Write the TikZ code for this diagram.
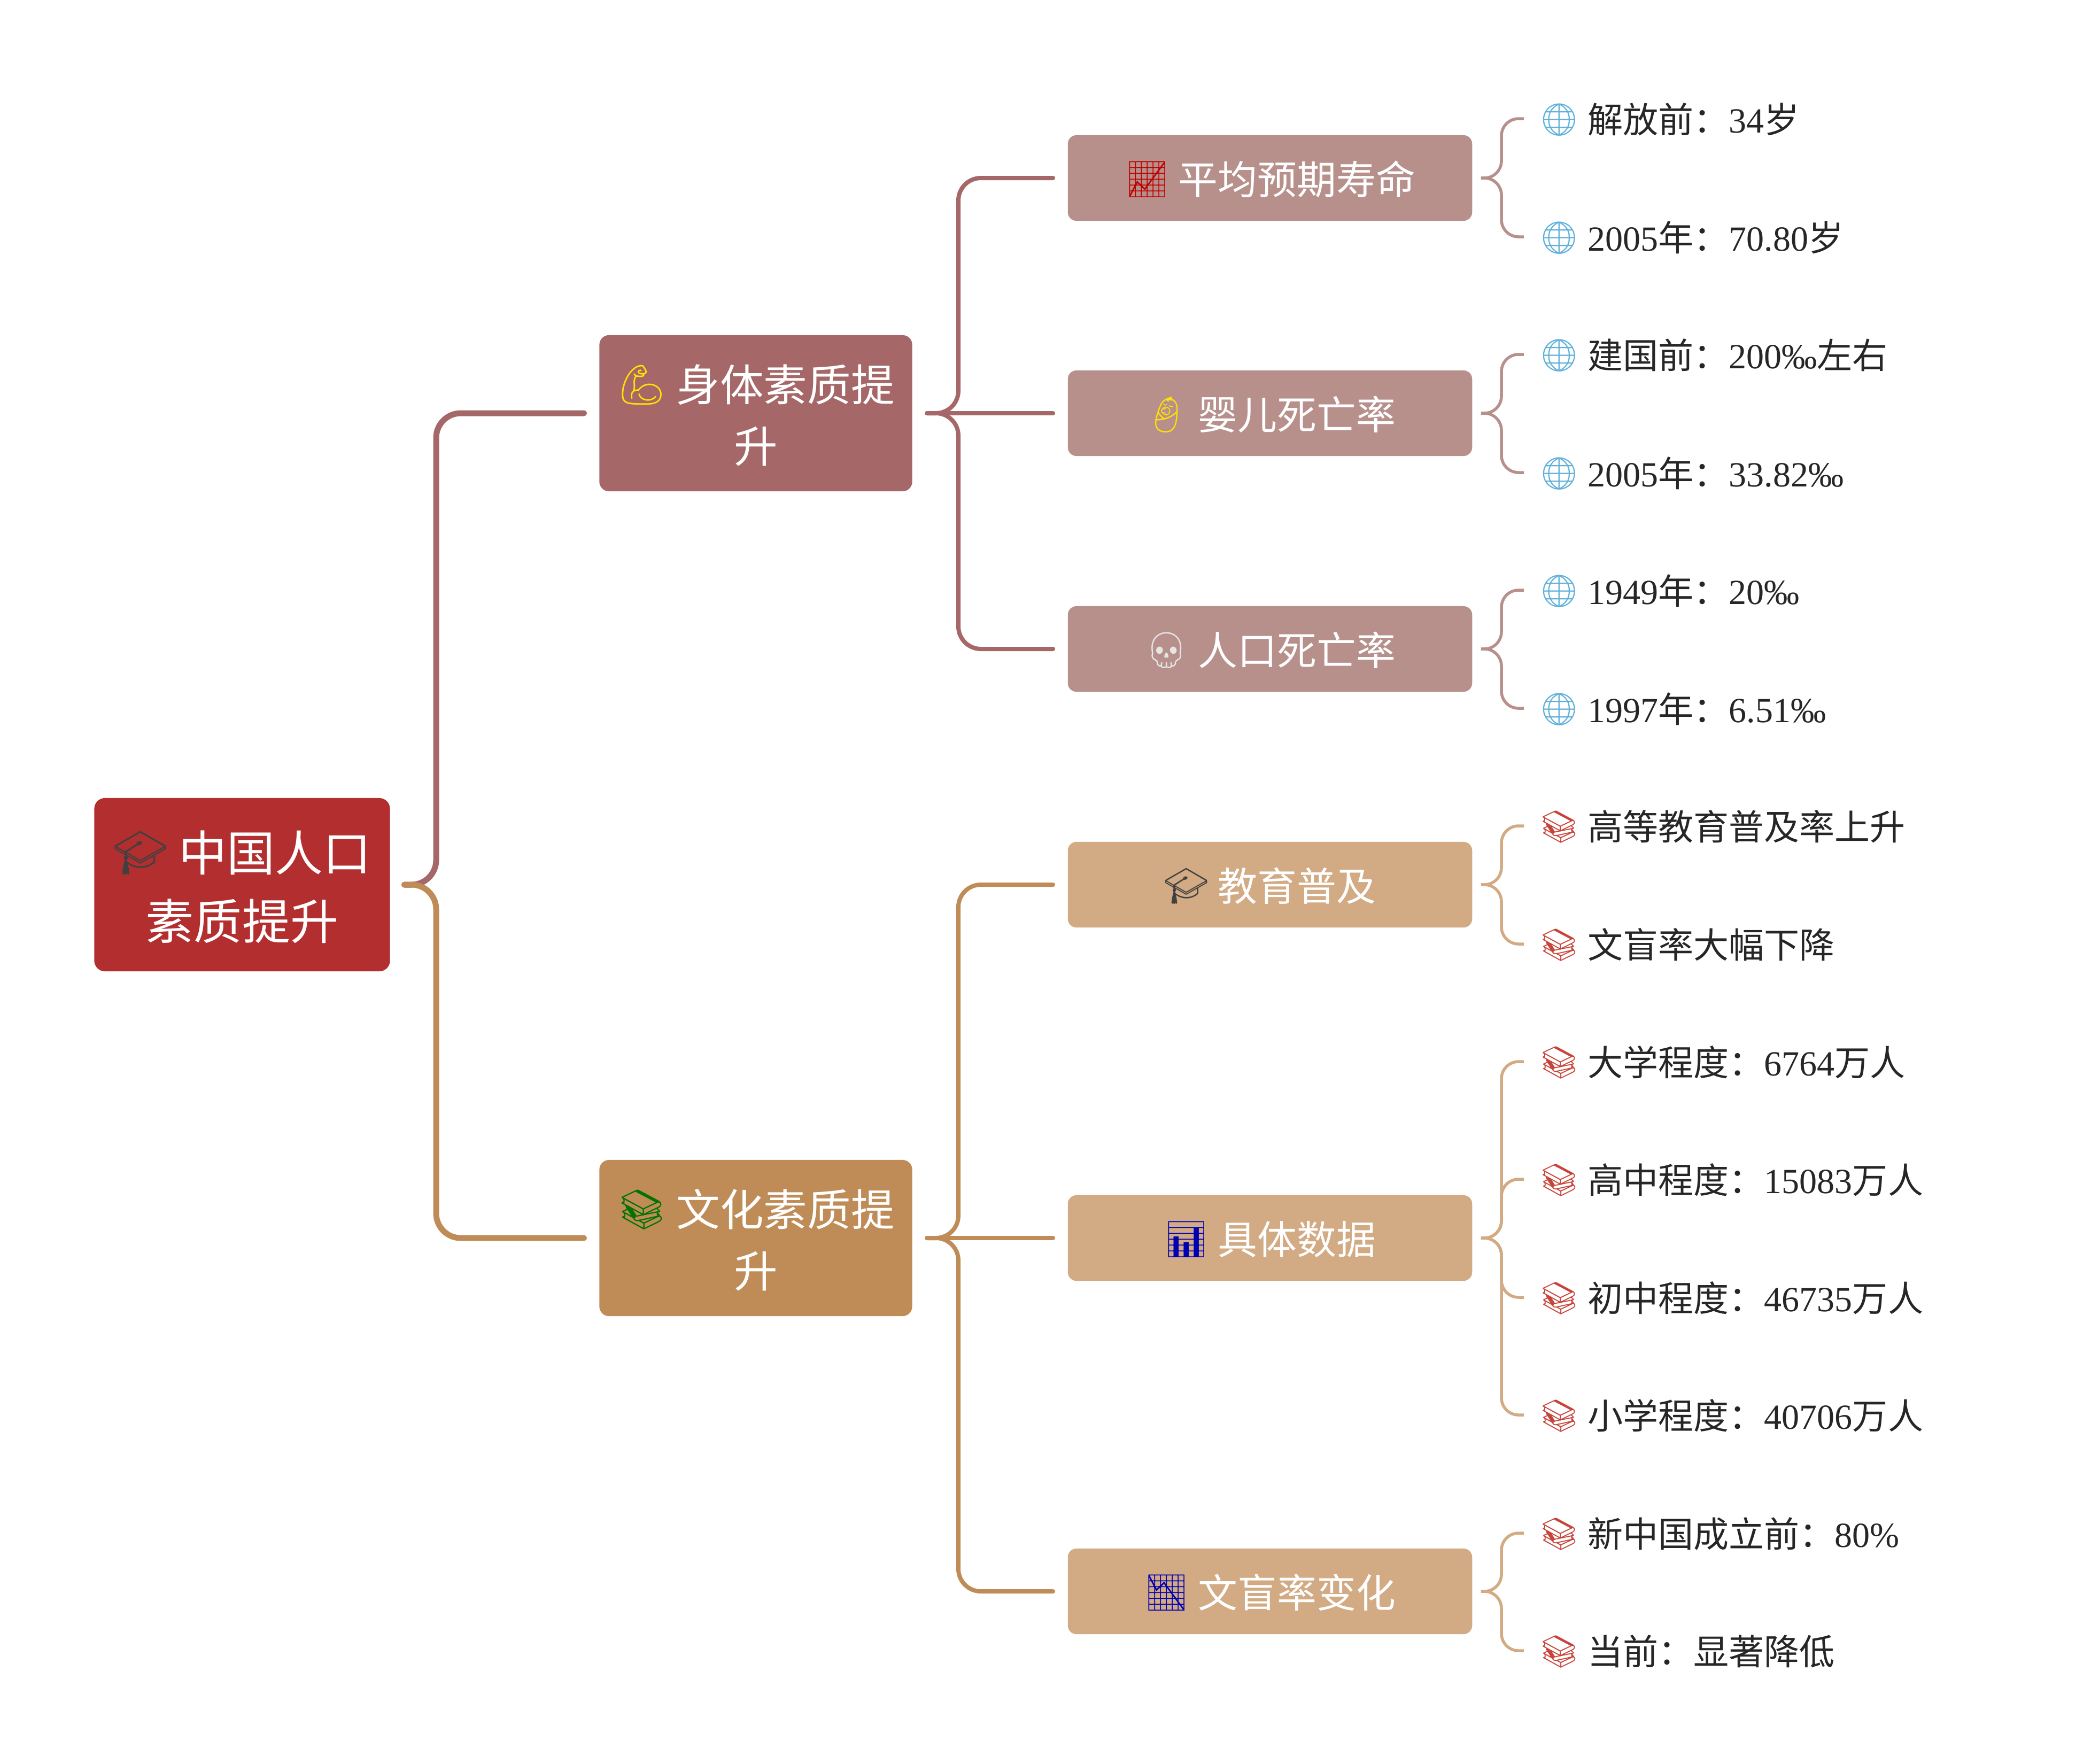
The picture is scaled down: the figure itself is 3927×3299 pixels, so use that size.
\documentclass[tikz,border=0pt]{standalone}
\usepackage{fontspec}
\usepackage{xcolor}
\setmainfont{Noto Sans CJK SC}
\newfontfamily\latn{Liberation Serif}
\newfontfamily\emo[Scale=0.9]{Noto Emoji}
\usetikzlibrary{positioning}
\definecolor{rootred}{HTML}{B32E2F}
\definecolor{physbox}{HTML}{A56767}
\definecolor{physsub}{HTML}{B7908C}
\definecolor{cultbox}{HTML}{BF8C58}
\definecolor{cultsub}{HTML}{D2AA84}
\definecolor{leaftext}{HTML}{262626}
\definecolor{globeblue}{HTML}{5FB0DA}
\definecolor{bookred}{HTML}{C8443A}
\newcommand{\ic}[2]{\raisebox{0.06em}{\color{#1}\emo #2}}
\tikzset{
  rootbox/.style={fill=rootred,text=white,rounded corners=0.2cm,minimum width=5.53cm,minimum height=3.24cm,align=center,text height=2.04cm,text depth=0pt,font=\fontsize{25.6}{36.4}\selectfont},
  topicbox/.style={rounded corners=0.18cm,text=white,minimum width=5.85cm,minimum height=2.92cm,align=center,text height=1.84cm,text depth=0pt,font=\fontsize{23.2}{32.7}\selectfont},
  subbox/.style={rounded corners=0.16cm,text=white,minimum width=7.56cm,minimum height=1.6cm,align=center,text height=0.6cm,text depth=0pt,font=\fontsize{21}{28}\selectfont},
  leafitem/.style={anchor=west,inner sep=0pt,text=leaftext,text height=0.52cm,text depth=0pt,font=\fontsize{18.8}{24}\selectfont},
  trunklink/.style={draw=#1,line width=0.11cm,line cap=round,rounded corners=0.46cm,shorten <=0.26cm,shorten >=0.28cm},
  branchlink/.style={draw=#1,line width=0.08cm,line cap=round,rounded corners=0.42cm,shorten <=0.27cm,shorten >=0.27cm},
  leaflink/.style={draw=#1,line width=0.055cm,rounded corners=0.32cm,shorten <=0.16cm,shorten >=0.28cm}
}
\begin{document}
\begin{tikzpicture}[x=0.01cm,y=0.01cm]
\useasboundingbox (0,0) rectangle (3927,-3299);
\node [rootbox] (root) at (453,-1655) {\ic{black!75}{🎓} 中国人口\\素质提升};
\node [topicbox,fill=physbox] (phys) at (1414,-773) {\ic{yellow!85!orange}{💪} 身体素质提\\升};
\node [topicbox,fill=cultbox] (cult) at (1414,-2316) {\ic{green!45!black}{📚} 文化素质提\\升};
\node [subbox,fill=physsub] (life) at (2376,-333) {\ic{red!75!black}{📈} 平均预期寿命};
\node [subbox,fill=physsub] (infant) at (2376,-773) {\ic{yellow!85!orange}{👶} 婴儿死亡率};
\node [subbox,fill=physsub] (death) at (2376,-1214) {\ic{white!90!black}{💀} 人口死亡率};
\node [subbox,fill=cultsub] (edu) at (2376,-1655) {\ic{black!75}{🎓} 教育普及};
\node [subbox,fill=cultsub] (stats) at (2376,-2316) {\ic{blue!70!black}{📊} 具体数据};
\node [subbox,fill=cultsub] (illit) at (2376,-2977) {\ic{blue!70!black}{📉} 文盲率变化};
\node [leafitem] (lifea) at (2879,-222) {\ic{globeblue}{🌐} 解放前：{\latn 34}岁};
\node [leafitem] (lifeb) at (2879,-443) {\ic{globeblue}{🌐} {\latn 2005}年：{\latn 70.80}岁};
\node [leafitem] (infanta) at (2879,-663) {\ic{globeblue}{🌐} 建国前：{\latn 200‰}左右};
\node [leafitem] (infantb) at (2879,-884) {\ic{globeblue}{🌐} {\latn 2005}年：{\latn 33.82‰}};
\node [leafitem] (deatha) at (2879,-1104) {\ic{globeblue}{🌐} {\latn 1949}年：{\latn 20‰}};
\node [leafitem] (deathb) at (2879,-1325) {\ic{globeblue}{🌐} {\latn 1997}年：{\latn 6.51‰}};
\node [leafitem] (edua) at (2879,-1545) {\ic{bookred}{📚} 高等教育普及率上升};
\node [leafitem] (edub) at (2879,-1766) {\ic{bookred}{📚} 文盲率大幅下降};
\node [leafitem] (statsa) at (2879,-1986) {\ic{bookred}{📚} 大学程度：{\latn 6764}万人};
\node [leafitem] (statsb) at (2879,-2206) {\ic{bookred}{📚} 高中程度：{\latn 15083}万人};
\node [leafitem] (statsc) at (2879,-2427) {\ic{bookred}{📚} 初中程度：{\latn 46735}万人};
\node [leafitem] (statsd) at (2879,-2647) {\ic{bookred}{📚} 小学程度：{\latn 40706}万人};
\node [leafitem] (illita) at (2879,-2868) {\ic{bookred}{📚} 新中国成立前：{\latn 80\%}};
\node [leafitem] (illitb) at (2879,-3088) {\ic{bookred}{📚} 当前：显著降低};
\coordinate (trunk) at (816,-1655);
\coordinate (physbus) at (1793,-773);
\coordinate (cultbus) at (1793,-2316);
\coordinate (lifebus) at (2809,-333);
\coordinate (infantbus) at (2809,-773);
\coordinate (deathbus) at (2809,-1214);
\coordinate (edubus) at (2809,-1655);
\coordinate (statsbus) at (2809,-2316);
\coordinate (illitbus) at (2809,-2977);
\draw [trunklink=physbox] (root.east) -- (trunk) -- (trunk |- phys.west) -- (phys.west);
\draw [trunklink=cultbox] (root.east) -- (trunk) -- (trunk |- cult.west) -- (cult.west);
\draw [branchlink=physbox] (phys.east) -- (physbus) -- (physbus |- life.west) -- (life.west);
\draw [branchlink=physbox] (phys.east) -- (infant.west);
\draw [branchlink=physbox] (phys.east) -- (physbus) -- (physbus |- death.west) -- (death.west);
\draw [branchlink=cultbox] (cult.east) -- (cultbus) -- (cultbus |- edu.west) -- (edu.west);
\draw [branchlink=cultbox] (cult.east) -- (stats.west);
\draw [branchlink=cultbox] (cult.east) -- (cultbus) -- (cultbus |- illit.west) -- (illit.west);
\draw [leaflink=physsub] (life.east) -- (lifebus) -- (lifebus |- lifea.west) -- (lifea.west);
\draw [leaflink=physsub] (life.east) -- (lifebus) -- (lifebus |- lifeb.west) -- (lifeb.west);
\draw [leaflink=physsub] (infant.east) -- (infantbus) -- (infantbus |- infanta.west) -- (infanta.west);
\draw [leaflink=physsub] (infant.east) -- (infantbus) -- (infantbus |- infantb.west) -- (infantb.west);
\draw [leaflink=physsub] (death.east) -- (deathbus) -- (deathbus |- deatha.west) -- (deatha.west);
\draw [leaflink=physsub] (death.east) -- (deathbus) -- (deathbus |- deathb.west) -- (deathb.west);
\draw [leaflink=cultsub] (edu.east) -- (edubus) -- (edubus |- edua.west) -- (edua.west);
\draw [leaflink=cultsub] (edu.east) -- (edubus) -- (edubus |- edub.west) -- (edub.west);
\draw [leaflink=cultsub] (stats.east) -- (statsbus) -- (statsbus |- statsa.west) -- (statsa.west);
\draw [leaflink=cultsub] (stats.east) -- (statsbus) -- (statsbus |- statsb.west) -- (statsb.west);
\draw [leaflink=cultsub] (stats.east) -- (statsbus) -- (statsbus |- statsc.west) -- (statsc.west);
\draw [leaflink=cultsub] (stats.east) -- (statsbus) -- (statsbus |- statsd.west) -- (statsd.west);
\draw [leaflink=cultsub] (illit.east) -- (illitbus) -- (illitbus |- illita.west) -- (illita.west);
\draw [leaflink=cultsub] (illit.east) -- (illitbus) -- (illitbus |- illitb.west) -- (illitb.west);
\end{tikzpicture}
\end{document}
